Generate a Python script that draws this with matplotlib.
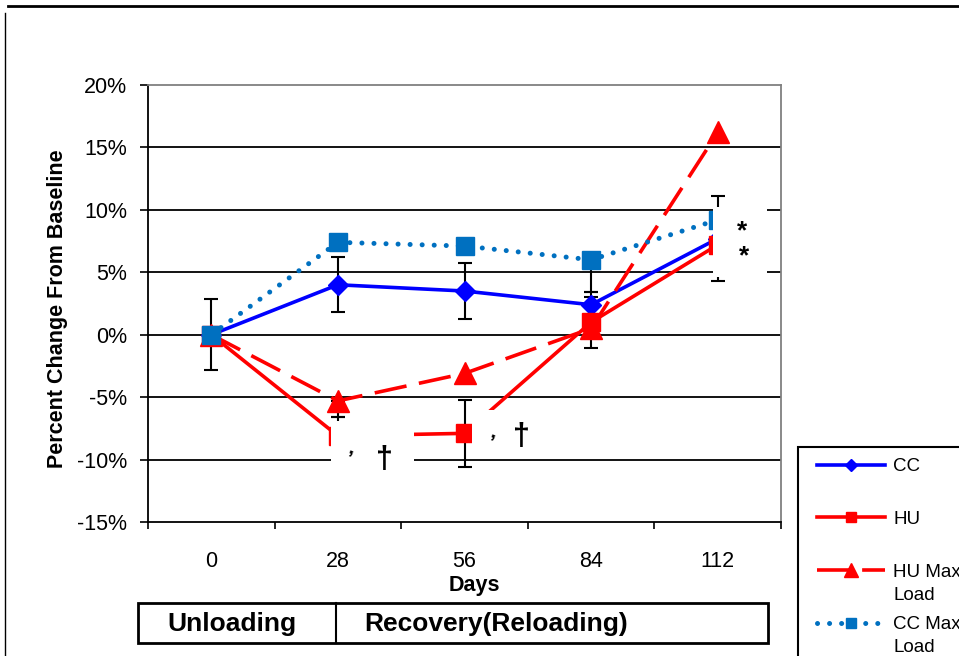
import matplotlib
matplotlib.use("Agg")
import matplotlib.pyplot as plt
from matplotlib.patches import Rectangle
from matplotlib.lines import Line2D

plt.rcParams['font.family'] = ['Liberation Sans', 'DejaVu Sans']

# ---------------- data ----------------
days = ["0", "28", "56", "84", "112"]
cc = [0.0, 4.0, 3.5, 2.4, 7.7]
hu = [0.0, -8.1, -7.9, 1.0, 7.2]
hu_max = [0.0, -5.3, -3.1, 0.5, 16.2]
cc_max = [0.0, 7.4, 7.1, 6.0, 9.2]

# error bars (lower, upper); None = not shown
cc_err_lo = [2.85, 2.2, 2.25, 1.0, 3.4]
cc_err_hi = [2.85, 2.2, 2.25, 1.0, 3.4]
hu_err_lo = [None, 1.5, 2.7, 2.05, None]
hu_err_hi = [None, 1.5, 2.7, 2.05, None]
hu_max_err_lo = [None, 1.3, None, 0.8, None]
cc_max_err_lo = [None, None, None, 2.6, None]

phases = ["Unloading", "Recovery(Reloading)"]
yticks = [-15, -10, -5, 0, 5, 10, 15, 20]

W, H = 959, 656
fig = plt.figure(figsize=(W / 100, H / 100), dpi=100)
ax = fig.add_axes([148 / W, 1 - 522 / H, (781 - 148) / W, (522 - 85) / H])

x = list(range(len(days)))


def draw_err(vals, lo, hi=None):
    xs, ys, l, h = [], [], [], []
    for i, v in enumerate(vals):
        if lo[i] is None:
            continue
        xs.append(i)
        ys.append(v)
        l.append(lo[i])
        h.append(hi[i] if hi is not None else 0.0)
    ax.errorbar(xs, ys, yerr=[l, h], fmt='none', ecolor='black',
                elinewidth=1.5, capsize=5, capthick=1.5, zorder=2)


draw_err(cc, cc_err_lo, cc_err_hi)
draw_err(hu, hu_err_lo, hu_err_hi)
draw_err(hu_max, hu_max_err_lo)
draw_err(cc_max, cc_max_err_lo)

l1, = ax.plot(x, cc, color='#0000FF', lw=2.6, marker='D', ms=10,
              label='CC', zorder=4)
l2, = ax.plot(x, hu, color='#FF0000', lw=2.6, marker='s', ms=13,
              label='HU', zorder=4)
l3, = ax.plot(x, hu_max, color='#FF0000', lw=2.6, ls=(0, (9, 3.5)),
              marker='^', ms=16, label='HU Max', zorder=4)
l4, = ax.plot(x, cc_max, color='#0070C0', lw=3.6, ls=(0, (0.01, 2.4)),
              dash_capstyle='round', marker='s', ms=13, label='CC Max',
              zorder=4)

# axes styling
ax.set_xlim(-0.5, 4.5)
ax.set_ylim(-15, 20)
ax.set_yticks(yticks)
ax.set_yticklabels([f"{v}%" for v in yticks])
ax.set_xticks(x)
ax.set_xticklabels(days)
ax.set_xticks([i - 0.5 for i in range(len(days) + 1)], minor=True)
ax.tick_params(axis='x', which='major', length=0, pad=21, labelsize=15.5)
ax.tick_params(axis='x', which='minor', length=5, width=1.2, direction='out')
ax.tick_params(axis='y', length=6, width=1.2, direction='out', pad=9,
               labelsize=15.5)
for v in yticks[1:-1]:
    ax.axhline(v, color='black', lw=1.3, zorder=1)
ax.spines['left'].set_linewidth(1.3)
ax.spines['bottom'].set_linewidth(1.3)
ax.spines['top'].set_color('#808080')
ax.spines['right'].set_color('#808080')
ax.spines['top'].set_linewidth(1.3)
ax.spines['right'].set_linewidth(1.3)

# white annotation boxes (text boxes covering the plot)
for (x0, x1, y0, y1) in [(0.945, 1.598, -11.45, -6.9),
                         (2.063, 2.63, -9.75, -6.0),
                         (3.961, 4.386, 4.65, 10.25)]:
    ax.add_patch(Rectangle((x0, y0), x1 - x0, y1 - y0, facecolor='white',
                           edgecolor='none', zorder=6, clip_on=False))
ax.text(1.11, -9.1, ",", fontsize=15, fontweight='bold', ha='center',
        va='center', zorder=7, rotation=-15)
ax.text(1.37, -10.0, "†", fontsize=22, fontweight='bold', ha='center',
        va='center', zorder=7)
ax.text(2.23, -7.8, ",", fontsize=15, fontweight='bold', ha='center',
        va='center', zorder=7, rotation=-15)
ax.text(2.45, -8.2, "†", fontsize=22, fontweight='bold', ha='center',
        va='center', zorder=7)
ax.text(4.19, 8.3, "*", fontsize=19, fontweight='bold', ha='center',
        va='center', zorder=7)
ax.text(4.21, 6.3, "*", fontsize=19, fontweight='bold', ha='center',
        va='center', zorder=7)

# axis titles
fig.text(57 / W, 1 - 309 / H, "Percent Change From Baseline", rotation=90,
         ha='center', va='center', fontsize=15.5, fontweight='bold')
fig.text(474 / W, 1 - 585 / H, "Days", ha='center', va='center',
         fontsize=15.5, fontweight='bold')

# phase table under the axis
fig.add_artist(Rectangle((138 / W, 1 - 643 / H), (768 - 138) / W, 40 / H,
                         transform=fig.transFigure, facecolor='none',
                         edgecolor='black', lw=2))
fig.add_artist(Line2D([336 / W, 336 / W], [1 - 643 / H, 1 - 603 / H],
                      transform=fig.transFigure, color='black', lw=1.5))
fig.text(232 / W, 1 - 624 / H, phases[0], ha='center', va='center',
         fontsize=19, fontweight='bold')
fig.text(496 / W, 1 - 624 / H, phases[1], ha='center', va='center',
         fontsize=19, fontweight='bold')

# outer frame fragments
fig.add_artist(Line2D([8 / W, 1], [1 - 6 / H, 1 - 6 / H],
                      transform=fig.transFigure, color='black', lw=2))
fig.add_artist(Line2D([5 / W, 5 / W], [0, 1 - 13 / H],
                      transform=fig.transFigure, color='black', lw=1))

# legend
frame = Rectangle((798 / W, 1 - 700 / H), 300 / W, (700 - 447) / H,
                  transform=fig.transFigure, facecolor='white',
                  edgecolor='black', lw=1.5, clip_on=False, zorder=3)
fig.add_artist(frame)
leg = fig.legend(handles=[l1, l2, l3, l4], loc='upper left',
                 bbox_to_anchor=(817 / W, 1 - 458 / H),
                 bbox_transform=fig.transFigure, frameon=False,
                 borderpad=0, borderaxespad=0, handlelength=3.63,
                 handletextpad=0.43, labelspacing=1.9, fontsize=13.5,
                 numpoints=1, markerscale=0.6)
leg.set_zorder(10)
fig.canvas.draw()
r = fig.canvas.get_renderer()
for t in leg.get_texts()[2:]:
    bb = t.get_window_extent(r)
    fig.text(bb.x0 / W, (bb.y0 - 23) / H, "Load", fontsize=13.5,
             ha='left', va='bottom', zorder=11)

fig.savefig("out.png", dpi=100)
